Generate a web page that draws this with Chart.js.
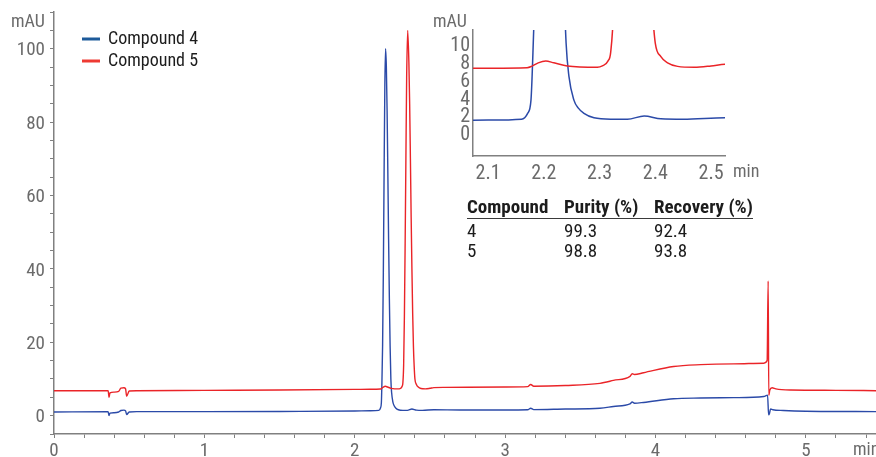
<!DOCTYPE html>
<html>
<head>
<meta charset="utf-8">
<title>Chromatogram</title>
<script src="https://cdn.jsdelivr.net/npm/chart.js@4.4.1/dist/chart.umd.min.js"></script>
<style>
	html, body		{ margin: 0; padding: 0; background: #fff; }
	#wrap			{ position: relative; width: 876px; height: 457px; overflow: hidden; }
	#main_canvas	{ position: absolute; left: 0; top: 0; }
	#inset_canvas	{ position: absolute; left: 420px; top: 0; }
	#results		{ position: absolute; left: 467px; top: 196px; border-collapse: collapse;
					  font-family: 'Liberation Sans Narrow', 'Roboto Condensed', Roboto, sans-serif;
					  font-size: 19px; color: #1c1c1c; white-space: nowrap; }
	#results th		{ font-weight: bold; text-align: left; padding: 0; line-height: 22px;
					  border-bottom: 1.5px solid #3a3a3a; }
	#results td		{ padding: 0; line-height: 20px; }
	#results tr.first td { padding-top: 2px; }
</style>
</head>
<body>
<div id="wrap">
	<canvas id="main_canvas" width="876" height="457"></canvas>
	<canvas id="inset_canvas" width="350" height="190"></canvas>
	<table id="results">
		<colgroup><col style="width:97px"><col style="width:90px"><col style="width:96px"></colgroup>
		<thead><tr id="results_head"></tr></thead>
		<tbody id="results_body"></tbody>
	</table>
</div>
<script>
"use strict";

// Compound 4 : retention time (min) / absorbance (mAU)
const c4_time = [
	0, 0.36, 0.366, 0.372, 0.40, 0.43, 0.445, 0.465, 0.476, 0.483,
	0.50, 0.55, 1.00, 1.50, 2.00, 2.10, 2.16, 2.171, 2.177, 2.18,
	2.185, 2.19, 2.195, 2.20, 2.205, 2.21, 2.215, 2.22, 2.225, 2.23,
	2.235, 2.24, 2.245, 2.254, 2.262, 2.272, 2.29, 2.32, 2.35, 2.38,
	2.41, 2.45, 2.526, 2.70, 3.00, 3.15, 3.17, 3.19, 3.40, 3.63,
	3.72, 3.83, 3.845, 3.86, 3.92, 4.12, 4.30, 4.52, 4.72, 4.745,
	4.752, 4.757, 4.765, 4.78, 4.85, 5.00, 5.47
]
const c4_mau = [
	1.0, 1.05, 0.0, 0.7, 0.8, 1.0, 1.4, 1.5, 1.3, 0.3,
	1.0, 1.1, 1.1, 1.15, 1.25, 1.35, 1.45, 2.1, 3.6, 8,
	19, 39, 66, 90, 100, 95, 83, 66, 48, 32,
	19, 10, 6.3, 3.6, 2.7, 2.1, 1.6, 1.45, 1.45, 1.8,
	1.5, 1.45, 1.6, 1.55, 1.55, 1.6, 2.0, 1.65, 1.8, 2.0,
	2.5, 3.2, 3.7, 3.4, 3.6, 4.6, 4.8, 4.9, 5.2, 5.6,
	0.2, 0.5, 1.8, 1.6, 1.4, 1.2, 1.1
]

// Compound 5
const c5_time = [
	0, 0.36, 0.366, 0.372, 0.40, 0.43, 0.445, 0.465, 0.476, 0.483,
	0.50, 0.55, 1.00, 1.50, 2.00, 2.10, 2.17, 2.178, 2.19, 2.2035,
	2.218, 2.242, 2.296, 2.305, 2.315, 2.32, 2.325, 2.33, 2.335, 2.34,
	2.345, 2.352, 2.36, 2.365, 2.37, 2.375, 2.38, 2.385, 2.39, 2.395,
	2.40, 2.41, 2.422, 2.44, 2.47, 2.50, 2.526, 2.60, 3.00, 3.15,
	3.17, 3.19, 3.40, 3.63, 3.72, 3.83, 3.845, 3.86, 3.92, 4.12,
	4.30, 4.52, 4.72, 4.742, 4.749, 4.753, 4.76, 4.775, 4.80, 4.90,
	5.20, 5.47
]
const c5_mau = [
	6.8, 6.8, 5.0, 6.2, 6.4, 6.6, 7.5, 7.6, 7.3, 5.3,
	6.7, 6.8, 6.9, 7.0, 7.15, 7.2, 7.25, 7.4, 7.8, 8.0,
	7.8, 7.45, 7.3, 7.45, 8.0, 9.0, 13.8, 27, 47, 70,
	92, 105, 96, 85, 70, 54, 40, 28, 19, 13.5,
	10, 8.5, 7.8, 7.4, 7.3, 7.45, 7.65, 7.7, 7.8, 7.9,
	8.5, 8.0, 8.2, 8.8, 9.6, 10.7, 11.4, 11.2, 11.7, 13.4,
	13.9, 14.1, 14.3, 15.0, 36.7, 5.5, 7.0, 7.6, 7.3, 7.0,
	6.9, 6.8
]

const series_labels	= ['Compound 4', 'Compound 5']
const series_colors	= ['#2b4aa8', '#ea2428']
const legend_colors	= ['#1d5a9a', '#ee3a33']

// axis tick labels
const main_x_labels		= [0, 1, 2, 3, 4, 5]
const main_y_labels		= [0, 20, 40, 60, 80, 100]
const inset_x_labels	= [2.1, 2.2, 2.3, 2.4, 2.5]
const inset_y_labels	= [0, 2, 4, 6, 8, 10]

// results table
const table_head		= ['Compound', 'Purity (%)', 'Recovery (%)']
const table_compound	= ['4', '5']
const table_purity		= ['99.3', '98.8']
const table_recovery	= ['92.4', '93.8']


const FONT		= "'Liberation Sans Narrow', 'Roboto Condensed', Roboto, sans-serif"
const TICK_GREY	= '#6b6b6b'
const AXIS_GREY	= '#808080'


const to_points = (times, values) => times.map((t, i) => ({x: t, y: values[i]}))

const make_datasets = function(width) {
	return [
		{
			label		: series_labels[1],
			data		: to_points(c5_time, c5_mau),
			borderColor	: series_colors[1],
			borderWidth	: width,
			order		: 0
		},
		{
			label		: series_labels[0],
			data		: to_points(c4_time, c4_mau),
			borderColor	: series_colors[0],
			borderWidth	: width,
			order		: 1
		}
	]
}

const round3 = v => Math.round(v * 1000) / 1000

// fixes an axis box size and drops the padding chart.js reserves for end labels
const fix_box = function(scale, prop, size) {
	scale[prop]				= size
	scale.paddingTop		= 0
	scale.paddingBottom		= 0
	scale.paddingLeft		= 0
	scale.paddingRight		= 0
}

// draws free text (unit labels, legend) on a chart canvas
const draw_text = function(ctx, text, x, y, color, size, weight) {
	ctx.save()
	ctx.font			= (weight || 'normal') + ' ' + size + 'px ' + FONT
	ctx.fillStyle		= color
	ctx.textAlign		= 'left'
	ctx.textBaseline	= 'middle'
	ctx.fillText(text, x, y)
	ctx.restore()
}


// main chromatogram
const main_labels_plugin = {
	id : 'main_labels',
	afterDraw : function(chart) {
		const ctx = chart.ctx
		draw_text(ctx, 'mAU', 11, 22, TICK_GREY, 18)
		draw_text(ctx, 'min', 853, 450, TICK_GREY, 18)

		// legend
		series_labels.forEach((label, i) => {
			const y = 39 + i * 22
			ctx.save()
			ctx.strokeStyle	= legend_colors[i]
			ctx.lineWidth	= 3
			ctx.beginPath()
			ctx.moveTo(82, y)
			ctx.lineTo(100, y)
			ctx.stroke()
			ctx.restore()
			draw_text(ctx, label, 108, y, '#1c1c1c', 18)
		})
	}
}

const main_chart = new Chart(document.getElementById('main_canvas'), {
	type	: 'line',
	data	: { datasets: make_datasets(1.4) },
	plugins	: [main_labels_plugin],
	options	: {
		responsive	: false,
		animation	: false,
		elements	: {
			point	: { radius: 0 },
			line	: { cubicInterpolationMode: 'monotone' }
		},
		layout		: { padding: { top: 12, left: 0, right: 0, bottom: 0 } },
		plugins		: {
			legend	: { display: false },
			tooltip	: { enabled: false }
		},
		scales : {
			x : {
				type	: 'linear',
				min		: 0,
				max		: 5.466,
				afterFit: (scale) => fix_box(scale, 'height', 23),
				afterBuildTicks : (scale) => {
					const ticks = []
					for (let v = 0; v <= 5.41; v += 0.2) ticks.push({value: round3(v)})
					scale.ticks = ticks
				},
				border	: { display: true, color: AXIS_GREY, width: 1.5 },
				grid	: { drawOnChartArea: false, drawTicks: true, tickLength: 4, tickColor: AXIS_GREY, tickWidth: 1 },
				ticks	: {
					autoSkip	: false,
					maxRotation	: 0,
					padding		: 2,
					color		: TICK_GREY,
					font		: { family: FONT, size: 19 },
					callback	: (v) => main_x_labels.includes(round3(v)) ? String(round3(v)) : ''
				}
			},
			y : {
				min		: -5,
				max		: 110,
				afterFit: (scale) => fix_box(scale, 'width', 54),
				afterBuildTicks : (scale) => {
					const ticks = []
					for (let v = -5; v <= 110; v += 5) ticks.push({value: v})
					scale.ticks = ticks
				},
				border	: { display: true, color: AXIS_GREY, width: 1.5 },
				grid	: { drawOnChartArea: false, drawTicks: true, tickLength: 4, tickColor: AXIS_GREY, tickWidth: 1 },
				ticks	: {
					autoSkip	: false,
					padding		: 5,
					labelOffset	: 2,
					color		: TICK_GREY,
					font		: { family: FONT, size: 19 },
					callback	: (v) => main_y_labels.includes(v) ? String(v) : ''
				}
			}
		}
	}
})


// zoomed view around the two main peaks
const inset_labels_plugin = {
	id : 'inset_labels',
	afterDraw : function(chart) {
		draw_text(chart.ctx, 'mAU', 13, 22, TICK_GREY, 18)
		draw_text(chart.ctx, 'min', 313, 172, TICK_GREY, 18)
	}
}

const inset_chart = new Chart(document.getElementById('inset_canvas'), {
	type	: 'line',
	data	: { datasets: make_datasets(1.5) },
	plugins	: [inset_labels_plugin],
	options	: {
		responsive	: false,
		animation	: false,
		elements	: {
			point	: { radius: 0 },
			line	: { cubicInterpolationMode: 'monotone' }
		},
		layout		: { padding: { top: 30, left: 0, right: 45, bottom: 0 } },
		plugins		: {
			legend	: { display: false },
			tooltip	: { enabled: false }
		},
		scales : {
			x : {
				type	: 'linear',
				min		: 2.073,
				max		: 2.525,
				afterFit: (scale) => fix_box(scale, 'height', 34),
				afterBuildTicks : (scale) => {
					scale.ticks = inset_x_labels.map(v => ({value: v}))
				},
				border	: { display: true, color: AXIS_GREY, width: 1.5 },
				grid	: { display: false, drawTicks: false },
				ticks	: {
					autoSkip	: false,
					maxRotation	: 0,
					padding		: 6,
					color		: TICK_GREY,
					font		: { family: FONT, size: 20 },
					callback	: (v) => v.toFixed(1)
				}
			},
			y : {
				min		: -2.7,
				max		: 11.5,
				afterFit: (scale) => fix_box(scale, 'width', 53),
				afterBuildTicks : (scale) => {
					scale.ticks = inset_y_labels.map(v => ({value: v}))
				},
				border	: { display: true, color: AXIS_GREY, width: 1.5 },
				grid	: { display: false, drawTicks: false },
				ticks	: {
					autoSkip	: false,
					padding		: 3,
					labelOffset	: 3,
					color		: TICK_GREY,
					font		: { family: FONT, size: 20 },
					callback	: (v) => String(v)
				}
			}
		}
	}
})


// results table
const head_row = document.getElementById('results_head')
table_head.forEach((text) => {
	const th = document.createElement('th')
	th.textContent = text
	head_row.appendChild(th)
})
const body = document.getElementById('results_body')
table_compound.forEach((compound, i) => {
	const tr = document.createElement('tr')
	if (i === 0) tr.className = 'first'
	;[compound, table_purity[i], table_recovery[i]].forEach((text) => {
		const td = document.createElement('td')
		td.textContent = text
		tr.appendChild(td)
	})
	body.appendChild(tr)
})
</script>
</body>
</html>
